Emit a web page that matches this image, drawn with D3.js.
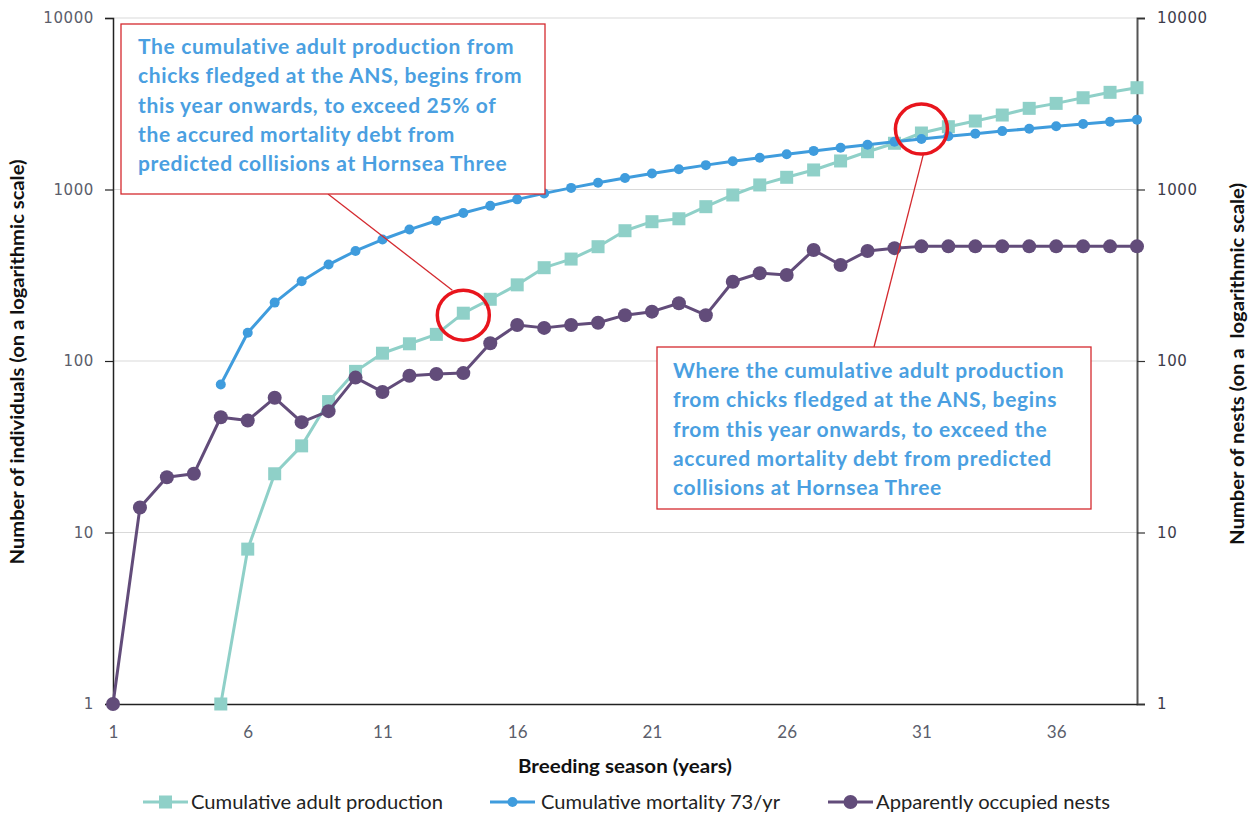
<!DOCTYPE html>
<html>
<head>
<meta charset="utf-8">
<script src="https://cdn.jsdelivr.net/npm/d3@7"></script>
<style>
  html, body { margin: 0; padding: 0; background: #ffffff; }
  svg { display: block; }
</style>
</head>
<body>
<svg id="chart" width="1253" height="816"></svg>
<script>
// Breeding seasons (years 1..39)
const seasons = [1,2,3,4,5,6,7,8,9,10,11,12,13,14,15,16,17,18,19,20,
                 21,22,23,24,25,26,27,28,29,30,31,32,33,34,35,36,37,38,39];

// Cumulative adult production (starts in season 5)
const adultProduction = [null,null,null,null,1,8,22,32,58,87,111,126,143,190,229,278,350,393,464,575,
                         649,675,794,929,1063,1178,1300,1467,1661,1860,2135,2323,2508,2718,2973,3178,3428,3686,3922];

// Cumulative mortality at 73 birds per year (starts in season 5)
const mortality = [null,null,null,null,73,146,219,292,365,438,511,584,657,730,803,876,949,1022,1095,1168,
                   1241,1314,1387,1460,1533,1606,1679,1752,1825,1898,1971,2044,2117,2190,2263,2336,2409,2482,2555];

// Apparently occupied nests
const nests = [1,14,21,22,47,45,61,44,51,80,66,82,84,85,127,162,156,162,167,185,
               194,217,185,290,325,317,444,363,438,455,466,466,466,466,466,466,466,466,466];

const xTicks = [1,6,11,16,21,26,31,36];
const yTicks = [1,10,100,1000,10000];

const seriesNames = ["Cumulative adult production", "Cumulative mortality 73/yr", "Apparently occupied nests"];
const seriesColors = ["#8fd0c8", "#3f9cdd", "#624c7a"];

const svg = d3.select("#chart");
const plotLeft = 113, plotRight = 1137, plotTop = 18, plotBottom = 704;

const x = d3.scaleLinear().domain([1, 39]).range([plotLeft, plotRight]);
const y = d3.scaleLog().domain([1, 10000]).range([plotBottom, plotTop]);

// horizontal gridlines
svg.append("g")
  .selectAll("line")
  .data(yTicks.filter(v => v > 1))
  .join("line")
  .attr("x1", plotLeft).attr("x2", plotRight)
  .attr("y1", d => y(d)).attr("y2", d => y(d))
  .attr("stroke", "#d9d9d9").attr("stroke-width", 1.2);

// left axis
const yAxisL = d3.axisLeft(y).tickValues(yTicks).tickFormat(d3.format("d")).tickSize(8).tickPadding(11);
const gL = svg.append("g").attr("transform", `translate(${plotLeft},0)`).call(yAxisL);
gL.select(".domain").attr("stroke", "#222").attr("stroke-width", 1.5);
gL.selectAll(".tick line").attr("stroke", "#222").attr("stroke-width", 1.2);
gL.selectAll(".tick text").attr("font-family", "DejaVu Sans").attr("font-size", 15)
  .attr("fill", "#5b5e6b").attr("letter-spacing", 0.6);

// right axis
const yAxisR = d3.axisRight(y).tickValues(yTicks).tickFormat(d3.format("d")).tickSize(8).tickPadding(12);
const gR = svg.append("g").attr("transform", `translate(${plotRight},0)`).call(yAxisR);
gR.select(".domain").attr("stroke", "#555").attr("stroke-width", 2);
gR.selectAll(".tick line").attr("stroke", "#333").attr("stroke-width", 1.2);
gR.selectAll(".tick text").attr("font-family", "DejaVu Sans").attr("font-size", 15)
  .attr("fill", "#3c3c4a").attr("letter-spacing", 0.6);

// bottom axis
const xAxis = d3.axisBottom(x).tickValues(xTicks).tickFormat(d3.format("d")).tickSize(0).tickPadding(22);
const gB = svg.append("g").attr("transform", `translate(0,${plotBottom})`).call(xAxis);
gB.select(".domain").attr("stroke", "#222").attr("stroke-width", 1.5);
gB.selectAll(".tick text").attr("font-family", "Lato").attr("font-size", 17)
  .attr("fill", "#5b5e6b");

// axis titles
function title(tx, ty, rot, len, str) {
  svg.append("text")
    .attr("transform", `translate(${tx},${ty}) rotate(${rot})`)
    .attr("text-anchor", "middle")
    .attr("font-family", "Lato").attr("font-weight", "bold").attr("font-size", 18)
    .attr("fill", "#111")
    .attr("xml:space", "preserve")
    .attr("textLength", len).attr("lengthAdjust", "spacingAndGlyphs")
    .text(str);
}
title(24, 362, -90, 405, "Number of individuals (on a logarithmic scale)");
title(1244, 364, -90, 362, "Number of nests (on a  logarithmic scale)");
title(625, 773, 0, 214, "Breeding season (years)");

// series
const seriesData = [adultProduction, mortality, nests];
const line = d3.line()
  .defined(d => d.v != null)
  .x(d => x(d.s)).y(d => y(d.v));

seriesData.forEach((vals, i) => {
  const pts = seasons.map((s, k) => ({ s, v: vals[k] }));
  const g = svg.append("g");
  g.append("path")
    .datum(pts)
    .attr("fill", "none")
    .attr("stroke", seriesColors[i])
    .attr("stroke-width", 3)
    .attr("stroke-linejoin", "round")
    .attr("d", line);
  const valid = pts.filter(d => d.v != null);
  if (i === 0) {
    g.selectAll("rect").data(valid).join("rect")
      .attr("x", d => x(d.s) - 6.5).attr("y", d => y(d.v) - 6.5)
      .attr("width", 13).attr("height", 13)
      .attr("fill", seriesColors[i]);
  } else {
    g.selectAll("circle").data(valid).join("circle")
      .attr("cx", d => x(d.s)).attr("cy", d => y(d.v))
      .attr("r", i === 1 ? 5 : 7)
      .attr("fill", seriesColors[i]);
  }
});

// annotations
const annoBlue = "#4a9fe1", annoRed = "#d42a2f", ringRed = "#e8151d";

function noteBox(x0, y0, w, h, lines, tx, ty) {
  svg.append("rect")
    .attr("x", x0).attr("y", y0).attr("width", w).attr("height", h)
    .attr("fill", "#fff").attr("stroke", annoRed).attr("stroke-width", 1.3);
  const t = svg.append("text")
    .attr("font-family", "Lato").attr("font-weight", "bold").attr("font-size", 21)
    .attr("letter-spacing", 0.65)
    .attr("fill", annoBlue);
  lines.forEach((l, k) => {
    t.append("tspan").attr("x", tx).attr("y", ty + k * 29.3).text(l);
  });
}

// ring markers on the crossing seasons
const ring1 = { cx: x(14), cy: y(185) };
const ring2 = { cx: x(31), cy: y(2250) };

// leader lines
svg.append("line")
  .attr("x1", 328).attr("y1", 194).attr("x2", ring1.cx - 11).attr("y2", ring1.cy - 25)
  .attr("stroke", annoRed).attr("stroke-width", 1.3);
svg.append("line")
  .attr("x1", 874).attr("y1", 347).attr("x2", ring2.cx + 2).attr("y2", ring2.cy + 25)
  .attr("stroke", annoRed).attr("stroke-width", 1.3);

noteBox(121, 24, 424, 170, [
  "The cumulative adult production from",
  "chicks fledged at the ANS, begins from",
  "this year onwards, to exceed 25% of",
  "the accured mortality debt from",
  "predicted collisions at Hornsea Three"
], 138, 54);

noteBox(657, 347, 434, 162, [
  "Where the cumulative adult production",
  "from chicks fledged at the ANS, begins",
  "from this year onwards, to exceed the",
  "accured mortality debt from predicted",
  "collisions at Hornsea Three"
], 673, 378);

[ring1, ring2].forEach(r => {
  svg.append("ellipse")
    .attr("cx", r.cx).attr("cy", r.cy).attr("rx", 26).attr("ry", 25)
    .attr("fill", "none").attr("stroke", ringRed).attr("stroke-width", 3.5);
});

// legend
const legendItems = [
  { x: 143, tx: 191, len: 252 },
  { x: 490, tx: 541, len: 239 },
  { x: 828, tx: 876, len: 234 }
];
const lg = svg.append("g").attr("transform", "translate(0,802)");
legendItems.forEach((it, i) => {
  lg.append("line").attr("x1", it.x).attr("x2", it.x + 45).attr("y1", 0).attr("y2", 0)
    .attr("stroke", seriesColors[i]).attr("stroke-width", 3);
  if (i === 0) {
    lg.append("rect").attr("x", it.x + 16).attr("y", -6.5).attr("width", 13).attr("height", 13)
      .attr("fill", seriesColors[i]);
  } else {
    lg.append("circle").attr("cx", it.x + 22.5).attr("cy", 0).attr("r", i === 1 ? 5 : 7)
      .attr("fill", seriesColors[i]);
  }
  lg.append("text").attr("x", it.tx).attr("y", 7)
    .attr("font-family", "Lato").attr("font-size", 19).attr("fill", "#222")
    .attr("textLength", it.len).attr("lengthAdjust", "spacingAndGlyphs")
    .text(seriesNames[i]);
});
</script>
</body>
</html>
